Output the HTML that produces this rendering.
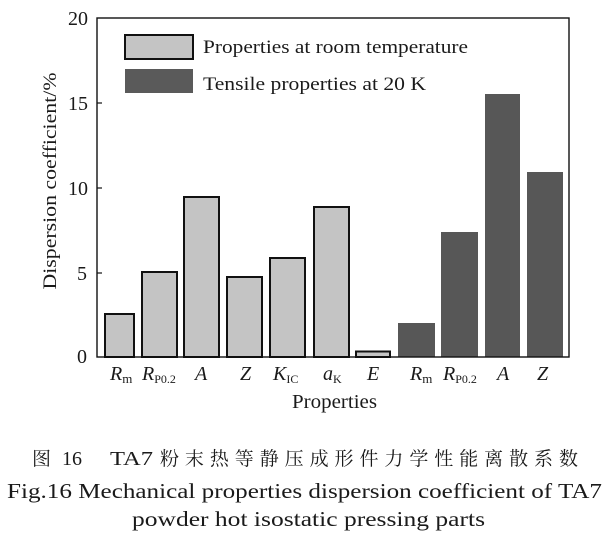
<!DOCTYPE html>
<html><head><meta charset="utf-8">
<style>
html,body{margin:0;padding:0;background:#fff;}
svg{display:block;}
text{font-family:"Liberation Serif","Noto Serif CJK SC",serif;fill:#1a1a1a;}
.cjk{font-family:"Noto Serif CJK SC","Noto Sans CJK SC",serif;}
</style></head>
<body>
<svg width="611" height="539" viewBox="0 0 611 539" xmlns="http://www.w3.org/2000/svg">
<rect width="611" height="539" fill="#ffffff"/>
<!-- bars light -->
<g fill="#c4c4c4" stroke="#111" stroke-width="2">
<rect x="105" y="314" width="29" height="43"/>
<rect x="142" y="272" width="35" height="85"/>
<rect x="184" y="197" width="35" height="160"/>
<rect x="227" y="277" width="35" height="80"/>
<rect x="270" y="258" width="35" height="99"/>
<rect x="314" y="207" width="35" height="150"/>
<rect x="356" y="351.5" width="34" height="5.5"/>
</g>
<!-- bars dark -->
<g fill="#575757">
<rect x="398" y="323" width="37" height="34"/>
<rect x="441" y="232" width="37" height="125"/>
<rect x="485" y="94" width="35" height="263"/>
<rect x="527" y="172" width="36" height="185"/>
</g>
<!-- frame -->
<rect x="97" y="18" width="472" height="339" fill="none" stroke="#111" stroke-width="1.4"/>
<!-- ticks -->
<g stroke="#111" stroke-width="1.2">
<line x1="97" y1="103" x2="102" y2="103"/>
<line x1="97" y1="188" x2="102" y2="188"/>
<line x1="97" y1="273" x2="102" y2="273"/>
</g>
<!-- y tick labels -->
<g font-size="20" text-anchor="end">
<text x="88" y="25">20</text>
<text x="88" y="110">15</text>
<text x="88" y="195">10</text>
<text x="87" y="280">5</text>
<text x="87" y="363">0</text>
</g>
<!-- y label -->
<text transform="translate(56,181) rotate(-90)" font-size="19" text-anchor="middle" textLength="217" lengthAdjust="spacingAndGlyphs">Dispersion coefficient/%</text>
<!-- legend -->
<rect x="125" y="35" width="68" height="24" fill="#c4c4c4" stroke="#111" stroke-width="2"/>
<rect x="125" y="69" width="68" height="24" fill="#5a5a5a"/>
<text x="203" y="53" font-size="19" textLength="265" lengthAdjust="spacingAndGlyphs">Properties at room temperature</text>
<text x="203" y="90" font-size="19" textLength="223" lengthAdjust="spacingAndGlyphs">Tensile properties at 20 K</text>
<!-- x tick labels -->
<g font-size="20" font-style="italic">
<text x="110" y="380">R<tspan font-size="13" font-style="normal" dy="3">m</tspan></text>
<text x="142" y="380">R<tspan font-size="12" font-style="normal" dy="3">P0.2</tspan></text>
<text x="195" y="380">A</text>
<text x="240" y="380">Z</text>
<text x="273" y="380">K<tspan font-size="12" font-style="normal" dy="3">IC</tspan></text>
<text x="323" y="380">a<tspan font-size="12" font-style="normal" dy="3">K</tspan></text>
<text x="367" y="380">E</text>
<text x="410" y="380">R<tspan font-size="13" font-style="normal" dy="3">m</tspan></text>
<text x="443" y="380">R<tspan font-size="12" font-style="normal" dy="3">P0.2</tspan></text>
<text x="497" y="380">A</text>
<text x="537" y="380">Z</text>
</g>
<text x="292" y="408" font-size="20" textLength="85" lengthAdjust="spacingAndGlyphs">Properties</text>
<!-- caption -->
<text class="cjk" x="32" y="465" font-size="19">图</text>
<text x="62" y="465" font-size="20" textLength="20" lengthAdjust="spacingAndGlyphs">16</text>
<text x="110" y="465" font-size="20" textLength="43" lengthAdjust="spacingAndGlyphs">TA7</text>
<text class="cjk" x="160" y="465" font-size="19" textLength="418" lengthAdjust="spacing">粉末热等静压成形件力学性能离散系数</text>
<text x="7" y="498" font-size="21" textLength="595" lengthAdjust="spacingAndGlyphs">Fig.16 Mechanical properties dispersion coefficient of TA7</text>
<text x="132" y="526" font-size="21" textLength="353" lengthAdjust="spacingAndGlyphs">powder hot isostatic pressing parts</text>
</svg>
</body></html>
